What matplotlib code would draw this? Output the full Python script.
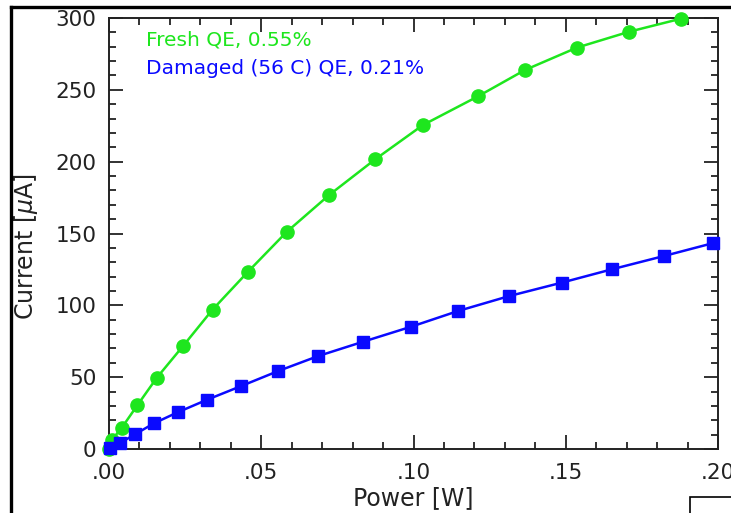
import matplotlib
matplotlib.use("Agg")
import matplotlib.pyplot as plt
from matplotlib.lines import Line2D
from matplotlib.patches import Rectangle
from matplotlib.ticker import MultipleLocator, FuncFormatter

# Data
fresh_power = [0.0, 0.0010, 0.0042, 0.0093, 0.0157, 0.0244, 0.0340, 0.0457,
               0.0583, 0.0723, 0.0874, 0.1031, 0.1212, 0.1366, 0.1537, 0.1709, 0.1878]
fresh_current = [0.0, 6.5, 14.8, 30.4, 49.6, 71.9, 97.0, 123.5,
                 151.0, 176.8, 201.6, 225.5, 245.5, 263.8, 279.4, 290.5, 299.5]

damaged_power = [0.0003, 0.0035, 0.0085, 0.0148, 0.0225, 0.0321, 0.0434, 0.0556,
                 0.0687, 0.0835, 0.0992, 0.1147, 0.1315, 0.1487, 0.1652, 0.1822, 0.1982]
damaged_current = [0.5, 4.0, 10.2, 17.9, 25.5, 34.2, 43.8, 54.3,
                   64.7, 74.7, 85.1, 96.1, 106.5, 115.8, 125.1, 134.3, 143.2]

fresh_label = "Fresh QE, 0.55%"
damaged_label = "Damaged (56 C) QE, 0.21%"
x_label = "Power [W]"
y_label = r"Current [$\mu$A]"

GREEN = "#1ee61e"
BLUE = "#0a0aff"

plt.rcParams['font.family'] = ['DejaVu Sans']
plt.rcParams['mathtext.fontset'] = 'dejavusans'

fig = plt.figure(figsize=(7.31, 5.13), dpi=100)
ax = fig.add_axes([109/731, 1 - 449/513, (718-109)/731, (449-18)/513])

ax.plot(fresh_power, fresh_current, color=GREEN, lw=1.8, marker='o', ms=9.5,
        mec=GREEN, mfc=GREEN, clip_on=False, zorder=3)
ax.plot(damaged_power, damaged_current, color=BLUE, lw=1.8, marker='s', ms=8.8,
        mec=BLUE, mfc=BLUE, clip_on=False, zorder=4)

ax.set_xlim(0, 0.2)
ax.set_ylim(0, 300)
ax.xaxis.set_major_locator(MultipleLocator(0.05))
ax.xaxis.set_minor_locator(MultipleLocator(0.01))
ax.yaxis.set_major_locator(MultipleLocator(50))
ax.yaxis.set_minor_locator(MultipleLocator(10))
ax.xaxis.set_major_formatter(FuncFormatter(lambda v, p: ("%.2f" % v)[1:] if v >= 0 else "%.2f" % v))

ax.tick_params(which='both', direction='in', top=True, right=True, color='#222222', width=1.3)
ax.tick_params(which='major', length=10, labelsize=15.5, pad=9, labelcolor='#222222')
ax.tick_params(axis='x', which='major', pad=10)
ax.tick_params(which='minor', length=5)
for sp in ax.spines.values():
    sp.set_linewidth(1.4)
    sp.set_color('#222222')

ax.set_xlabel(x_label, fontsize=17, color='#222222')
ax.set_ylabel(y_label, fontsize=17, color='#222222')
ax.xaxis.set_label_coords(0.5, -0.085)
ax.yaxis.set_label_coords(-0.113, 0.47)

fig.text(146/731, 1 - 40/513, fresh_label, color=GREEN,
         fontsize=14.5, va='center', ha='left')
fig.text(146/731, 1 - 68/513, damaged_label, color=BLUE,
         fontsize=14.5, va='center', ha='left')

# Page frame lines around the chart
fig.add_artist(Line2D([11/731, 11/731], [0, 1 - 7/513], color='black', lw=2.4,
                      transform=fig.transFigure))
fig.add_artist(Line2D([11/731, 1], [1 - 7/513, 1 - 7/513], color='black', lw=2.4,
                      transform=fig.transFigure))
fig.add_artist(Rectangle((690/731, -0.01), 0.1, 0.01 + 16/513, fill=False,
                         edgecolor='black', lw=1.2, transform=fig.transFigure))

fig.savefig("out.png", dpi=100)
